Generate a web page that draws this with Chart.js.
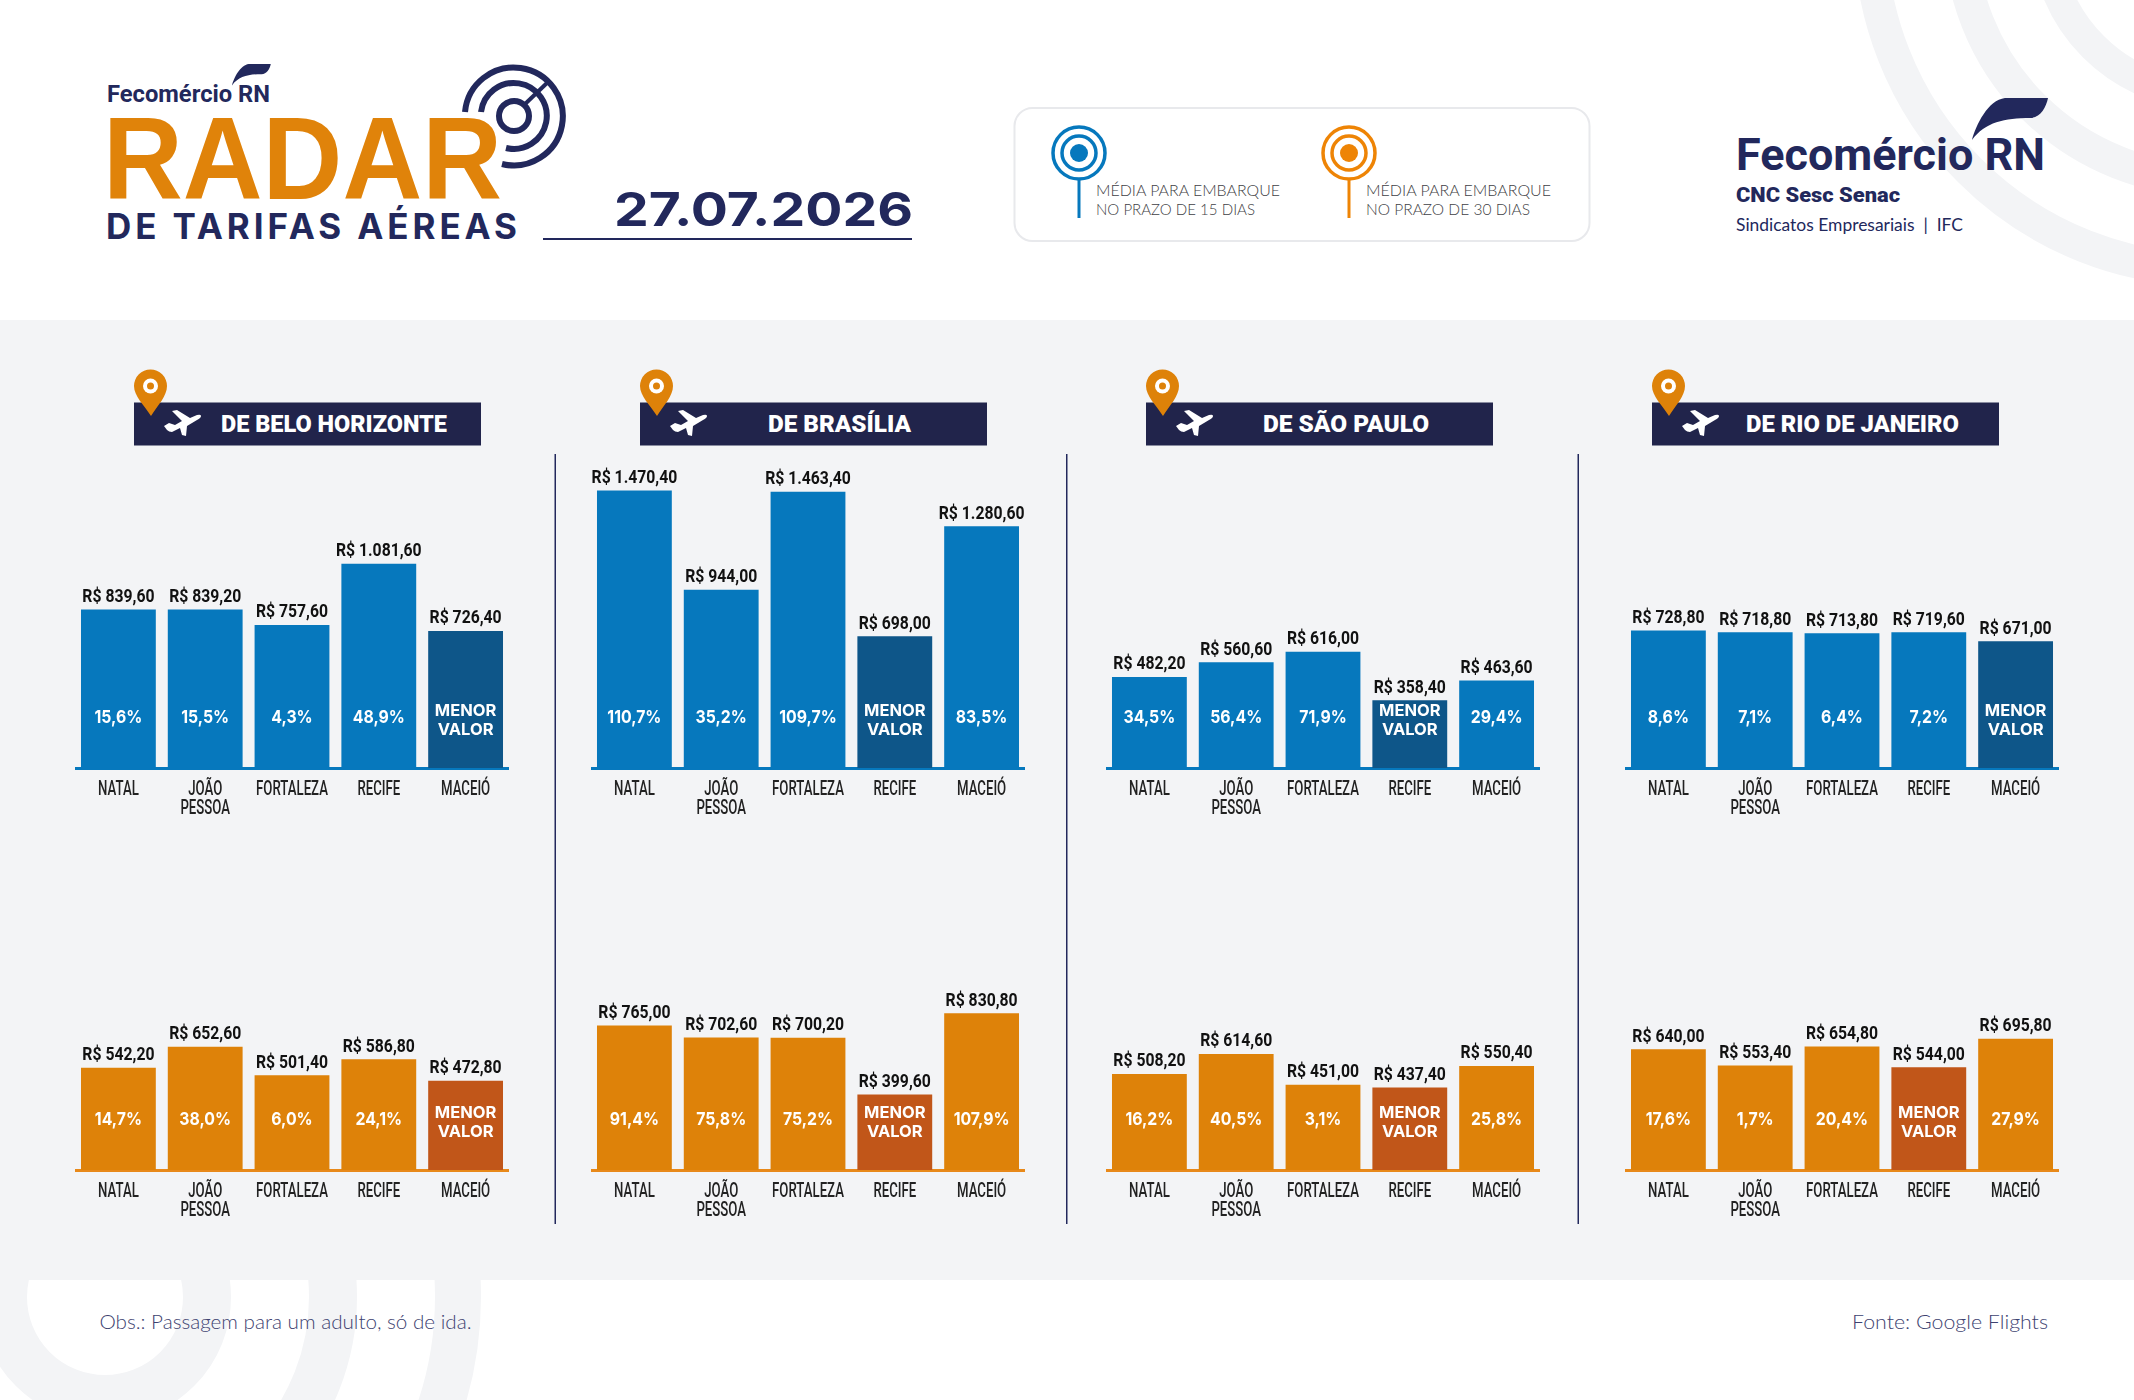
<!DOCTYPE html>
<html lang="pt-BR">
<head>
<meta charset="utf-8">
<title>Radar de Tarifas Aéreas</title>
<script src="https://cdn.jsdelivr.net/npm/chart.js@4"></script>
<style>
html, body { margin: 0; padding: 0; background: #fff; }
#page { position: relative; width: 2134px; height: 1400px; overflow: hidden; background: #fff; }
#art { position: absolute; left: 0; top: 0; }
canvas { position: absolute; }
</style>
</head>
<body>
<div id="page">
<svg id="art" width="2134" height="1400" viewBox="0 0 2134 1400">
  <defs>
    <clipPath id="footClip"><rect x="0" y="1280" width="2134" height="120"/></clipPath>
    <path id="plane" d="M1 17 L6 14 L12 16 L19 12 L9 2 L14 1 L27 9 L34 6 Q38 5 38 7 Q38 9 34 11 L24 17 L23 27 L19 26 L17 19 L9 23 Q6 23 4 21 Z" fill="#fff"/>
    <path id="feather" d="M76 0 L33 0 C16 2 4 27 0 42 C13 24 33 20 58 20 C68 20 74 10 76 0 Z" fill="#22285c"/>
  </defs>
  <!-- rings top right -->
  <g fill="none" stroke="#f3f4f6">
    <circle cx="2210" cy="-70" r="340" stroke-width="33"/>
    <circle cx="2210" cy="-70" r="250" stroke-width="33"/>
    <circle cx="2210" cy="-70" r="165" stroke-width="30"/>
  </g>
  <!-- rings bottom left -->
  <g fill="none" stroke="#f3f4f6" clip-path="url(#footClip)">
    <circle cx="105" cy="1297" r="102" stroke-width="48"/>
    <circle cx="105" cy="1297" r="228" stroke-width="48"/>
    <circle cx="105" cy="1297" r="353" stroke-width="46"/>
  </g>
  <rect x="0" y="320" width="2134" height="960" fill="#f3f4f6"/>

  <!-- left logo -->
  <use href="#feather" transform="translate(232,64) scale(0.51)"/>
  <text x="107" y="102" font-family="Roboto" font-weight="700" font-size="24" fill="#22285c" textLength="163" lengthAdjust="spacingAndGlyphs">Fecomércio RN</text>
  <g fill="none" stroke="#22285c">
    <path d="M465 112 A49 49 0 1 1 502 164" stroke-width="6"/>
    <path d="M481 112 A33 33 0 1 1 506 148" stroke-width="6"/>
    <circle cx="514" cy="116" r="15" stroke-width="6"/>
    <line x1="524" y1="105" x2="548" y2="82" stroke-width="4"/>
  </g>
  <text x="103" y="199" font-family="Liberation Sans" font-weight="700" font-size="116" fill="#e0830a" textLength="399" lengthAdjust="spacingAndGlyphs">RADAR</text>
  <text x="106" y="239" font-family="Inter" font-weight="700" font-size="35" fill="#22285c" textLength="411" lengthAdjust="spacing">DE TARIFAS AÉREAS</text>
  <text x="614" y="226" font-family="Inter" font-weight="700" font-size="47" fill="#22285c" textLength="299" lengthAdjust="spacingAndGlyphs">27.07.2026</text>
  <rect x="543" y="238" width="369" height="2" fill="#22285c"/>

  <!-- legend -->
  <rect x="1014.5" y="108" width="575" height="133" rx="18" fill="#fff" stroke="#e8e9ec" stroke-width="2"/>
  <g fill="none" stroke="#0678bd">
    <circle cx="1079" cy="153" r="26" stroke-width="3.5"/>
    <circle cx="1079" cy="153" r="17" stroke-width="3.5"/>
    <line x1="1079" y1="179" x2="1079" y2="218" stroke-width="3"/>
    <circle cx="1079" cy="153" r="9" fill="#0678bd" stroke="none"/>
  </g>
  <g fill="none" stroke="#ee8405">
    <circle cx="1349" cy="153" r="26" stroke-width="3.5"/>
    <circle cx="1349" cy="153" r="17" stroke-width="3.5"/>
    <line x1="1349" y1="179" x2="1349" y2="218" stroke-width="3"/>
    <circle cx="1349" cy="153" r="9" fill="#ee8405" stroke="none"/>
  </g>
  <g font-family="Lato" font-weight="300" font-size="16" fill="#3f3f46">
    <text x="1096" y="196" textLength="184" lengthAdjust="spacingAndGlyphs">MÉDIA PARA EMBARQUE</text>
    <text x="1096" y="215" textLength="159" lengthAdjust="spacingAndGlyphs">NO PRAZO DE 15 DIAS</text>
    <text x="1366" y="196" textLength="185" lengthAdjust="spacingAndGlyphs">MÉDIA PARA EMBARQUE</text>
    <text x="1366" y="215" textLength="164" lengthAdjust="spacingAndGlyphs">NO PRAZO DE 30 DIAS</text>
  </g>

  <!-- right logo -->
  <use href="#feather" transform="translate(1972,98)"/>
  <text x="1736" y="170" font-family="Roboto" font-weight="700" font-size="44" fill="#22285c" textLength="309" lengthAdjust="spacingAndGlyphs">Fecomércio RN</text>
  <text x="1736" y="202" font-family="Roboto" font-weight="900" font-size="20" fill="#22285c" textLength="164" lengthAdjust="spacingAndGlyphs">CNC Sesc Senac</text>
  <text x="1736" y="231" font-family="Lato" font-size="17" fill="#22285c" xml:space="preserve" textLength="227" lengthAdjust="spacingAndGlyphs">Sindicatos Empresariais  |  IFC</text>

  <!-- dividers -->
  <rect x="554.5" y="454" width="1.5" height="770" fill="#22285c"/>
  <rect x="1066" y="454" width="1.5" height="770" fill="#22285c"/>
  <rect x="1577.5" y="454" width="1.5" height="770" fill="#22285c"/>

  <g id="headers"></g>

  <!-- footer -->
  <text x="99.5" y="1329" font-family="Lato" font-weight="300" font-size="20" fill="#3d4270" textLength="372" lengthAdjust="spacingAndGlyphs">Obs.: Passagem para um adulto, só de ida.</text>
  <text x="1852" y="1329" font-family="Lato" font-weight="300" font-size="20" fill="#3d4270" textLength="196" lengthAdjust="spacingAndGlyphs">Fonte: Google Flights</text>
</svg>
<canvas id="c-bh-15" width="434" height="362" style="left:74.5px;top:466px"></canvas>
<canvas id="c-bsb-15" width="434" height="362" style="left:590.5px;top:466px"></canvas>
<canvas id="c-sp-15" width="434" height="362" style="left:1105.5px;top:466px"></canvas>
<canvas id="c-rj-15" width="434" height="362" style="left:1625px;top:466px"></canvas>
<canvas id="c-bh-30" width="434" height="362" style="left:74.5px;top:868px"></canvas>
<canvas id="c-bsb-30" width="434" height="362" style="left:590.5px;top:868px"></canvas>
<canvas id="c-sp-30" width="434" height="362" style="left:1105.5px;top:868px"></canvas>
<canvas id="c-rj-30" width="434" height="362" style="left:1625px;top:868px"></canvas>
</div>

<script>
// destinos (mesmos nos 8 graficos)
const cities = ['NATAL', ['JOÃO', 'PESSOA'], 'FORTALEZA', 'RECIFE', 'MACEIÓ'];

// embarque em 15 dias
const bh15 = [839.60, 839.20, 757.60, 1081.60, 726.40];
const bsb15 = [1470.40, 944.00, 1463.40, 698.00, 1280.60];
const sp15 = [482.20, 560.60, 616.00, 358.40, 463.60];
const rj15 = [728.80, 718.80, 713.80, 719.60, 671.00];

// embarque em 30 dias
const bh30 = [542.20, 652.60, 501.40, 586.80, 472.80];
const bsb30 = [765.00, 702.60, 700.20, 399.60, 830.80];
const sp30 = [508.20, 614.60, 451.00, 437.40, 550.40];
const rj30 = [640.00, 553.40, 654.80, 544.00, 695.80];

// diferenca para o menor valor
const bhPct15 = ['15,6%', '15,5%', '4,3%', '48,9%', null];
const bsbPct15 = ['110,7%', '35,2%', '109,7%', null, '83,5%'];
const spPct15 = ['34,5%', '56,4%', '71,9%', null, '29,4%'];
const rjPct15 = ['8,6%', '7,1%', '6,4%', '7,2%', null];
const bhPct30 = ['14,7%', '38,0%', '6,0%', '24,1%', null];
const bsbPct30 = ['91,4%', '75,8%', '75,2%', null, '107,9%'];
const spPct30 = ['16,2%', '40,5%', '3,1%', null, '25,8%'];
const rjPct30 = ['17,6%', '1,7%', '20,4%', null, '27,9%'];

const headerNames = ['DE BELO HORIZONTE', 'DE BRASÍLIA', 'DE SÃO PAULO', 'DE RIO DE JANEIRO'];

const blue = { bar: '#0678bd', low: '#0e5689', axis: '#0678bd' };
const orange = { bar: '#de8209', low: '#c15619', axis: '#e8891a' };

function drawHeaders() {
    var lefts = [134, 640, 1146, 1652];
    var textX = [221, 768, 1263, 1746];
    var textW = [226, 143, 166, 213];
    var html = '';
    headerNames.forEach(function(name, i) {
        var x = lefts[i];
        html += '<rect x="' + x + '" y="402.5" width="347" height="43" fill="#21244b"/>';
        html += '<path d="M' + (x + 17) + ' 416 C' + (x + 10) + ' 405 ' + x + ' 396 ' + x + ' 386 A16.5 16.5 0 0 1 ' + (x + 33) + ' 386 C' + (x + 33) + ' 396 ' + (x + 24) + ' 405 ' + (x + 17) + ' 416 Z" fill="#de8209"/>';
        html += '<circle cx="' + (x + 16.5) + '" cy="386" r="7.5" fill="#fff"/>';
        html += '<circle cx="' + (x + 16.5) + '" cy="386" r="3.5" fill="#de8209"/>';
        html += '<use href="#plane" x="' + (x + 29) + '" y="409"/>';
        html += '<text x="' + textX[i] + '" y="432" font-family="Roboto" font-weight="900" font-size="24" fill="#fff" textLength="' + textW[i] + '" lengthAdjust="spacingAndGlyphs">' + name + '</text>';
    });
    document.getElementById('headers').innerHTML = html;
}

function money(v) {
    return 'R$ ' + v.toLocaleString('pt-BR', { minimumFractionDigits: 2, maximumFractionDigits: 2 });
}

// texto apertado na horizontal, nao tem fonte condensada instalada
function fillNarrow(ctx, text, x, y, sx) {
    ctx.save();
    ctx.translate(x, y);
    ctx.scale(sx, 1);
    ctx.fillText(text, 0, 0);
    ctx.restore();
}

// escreve o preco em cima da barra, o percentual dentro dela e as cidades
const barLabels = {
    id: 'barLabels',
    afterDatasetsDraw: function(chart) {
        var ctx = chart.ctx;
        var ds = chart.data.datasets[0];
        var xScale = chart.scales.x;
        var base = chart.scales.y.getPixelForValue(0);
        ctx.save();
        ctx.textAlign = 'center';
        ctx.textBaseline = 'middle';
        chart.getDatasetMeta(0).data.forEach(function(bar, i) {
            ctx.fillStyle = '#111';
            ctx.font = '700 17.5px Roboto';
            fillNarrow(ctx, money(ds.data[i]), bar.x, bar.y - 12, 0.9);
            ctx.fillStyle = '#fff';
            if (ds.pct[i]) {
                ctx.font = '700 18px Inter';
                fillNarrow(ctx, ds.pct[i], bar.x, base - 50, 0.88);
            } else {
                ctx.font = '700 16.5px Inter';
                ctx.fillText('MENOR', bar.x, base - 57);
                ctx.fillText('VALOR', bar.x, base - 38);
            }
            var lines = [].concat(xScale.ticks[i].label);
            ctx.fillStyle = '#222';
            ctx.font = '500 20px Roboto';
            lines.forEach(function(line, n) {
                fillNarrow(ctx, line, xScale.getPixelForTick(i), base + 22 + n * 19, 0.66);
            });
        });
        ctx.restore();
    }
};

function createChart(canvasId, prices, pct, colors) {
    var ctx = document.getElementById(canvasId).getContext('2d');
    return new Chart(ctx, {
        type: 'bar',
        plugins: [barLabels],
        data: {
            labels: cities,
            datasets: [{
                data: prices,
                pct: pct,
                backgroundColor: pct.map(function(p) { return p ? colors.bar : colors.low; }),
                barPercentage: 0.862,
                categoryPercentage: 1
            }]
        },
        options: {
            responsive: false,
            animation: false,
            layout: { padding: 0 },
            plugins: { legend: { display: false }, tooltip: { enabled: false } },
            scales: {
                y: { display: false, min: 0, max: 1600 },
                x: {
                    afterFit: function(scale) { scale.height = 60; },
                    grid: { display: false },
                    border: { display: true, color: colors.axis, width: 3 },
                    ticks: { display: false }
                }
            }
        }
    });
}

drawHeaders();
createChart('c-bh-15', bh15, bhPct15, blue);
createChart('c-bsb-15', bsb15, bsbPct15, blue);
createChart('c-sp-15', sp15, spPct15, blue);
createChart('c-rj-15', rj15, rjPct15, blue);
createChart('c-bh-30', bh30, bhPct30, orange);
createChart('c-bsb-30', bsb30, bsbPct30, orange);
createChart('c-sp-30', sp30, spPct30, orange);
createChart('c-rj-30', rj30, rjPct30, orange);
</script>
</body>
</html>
